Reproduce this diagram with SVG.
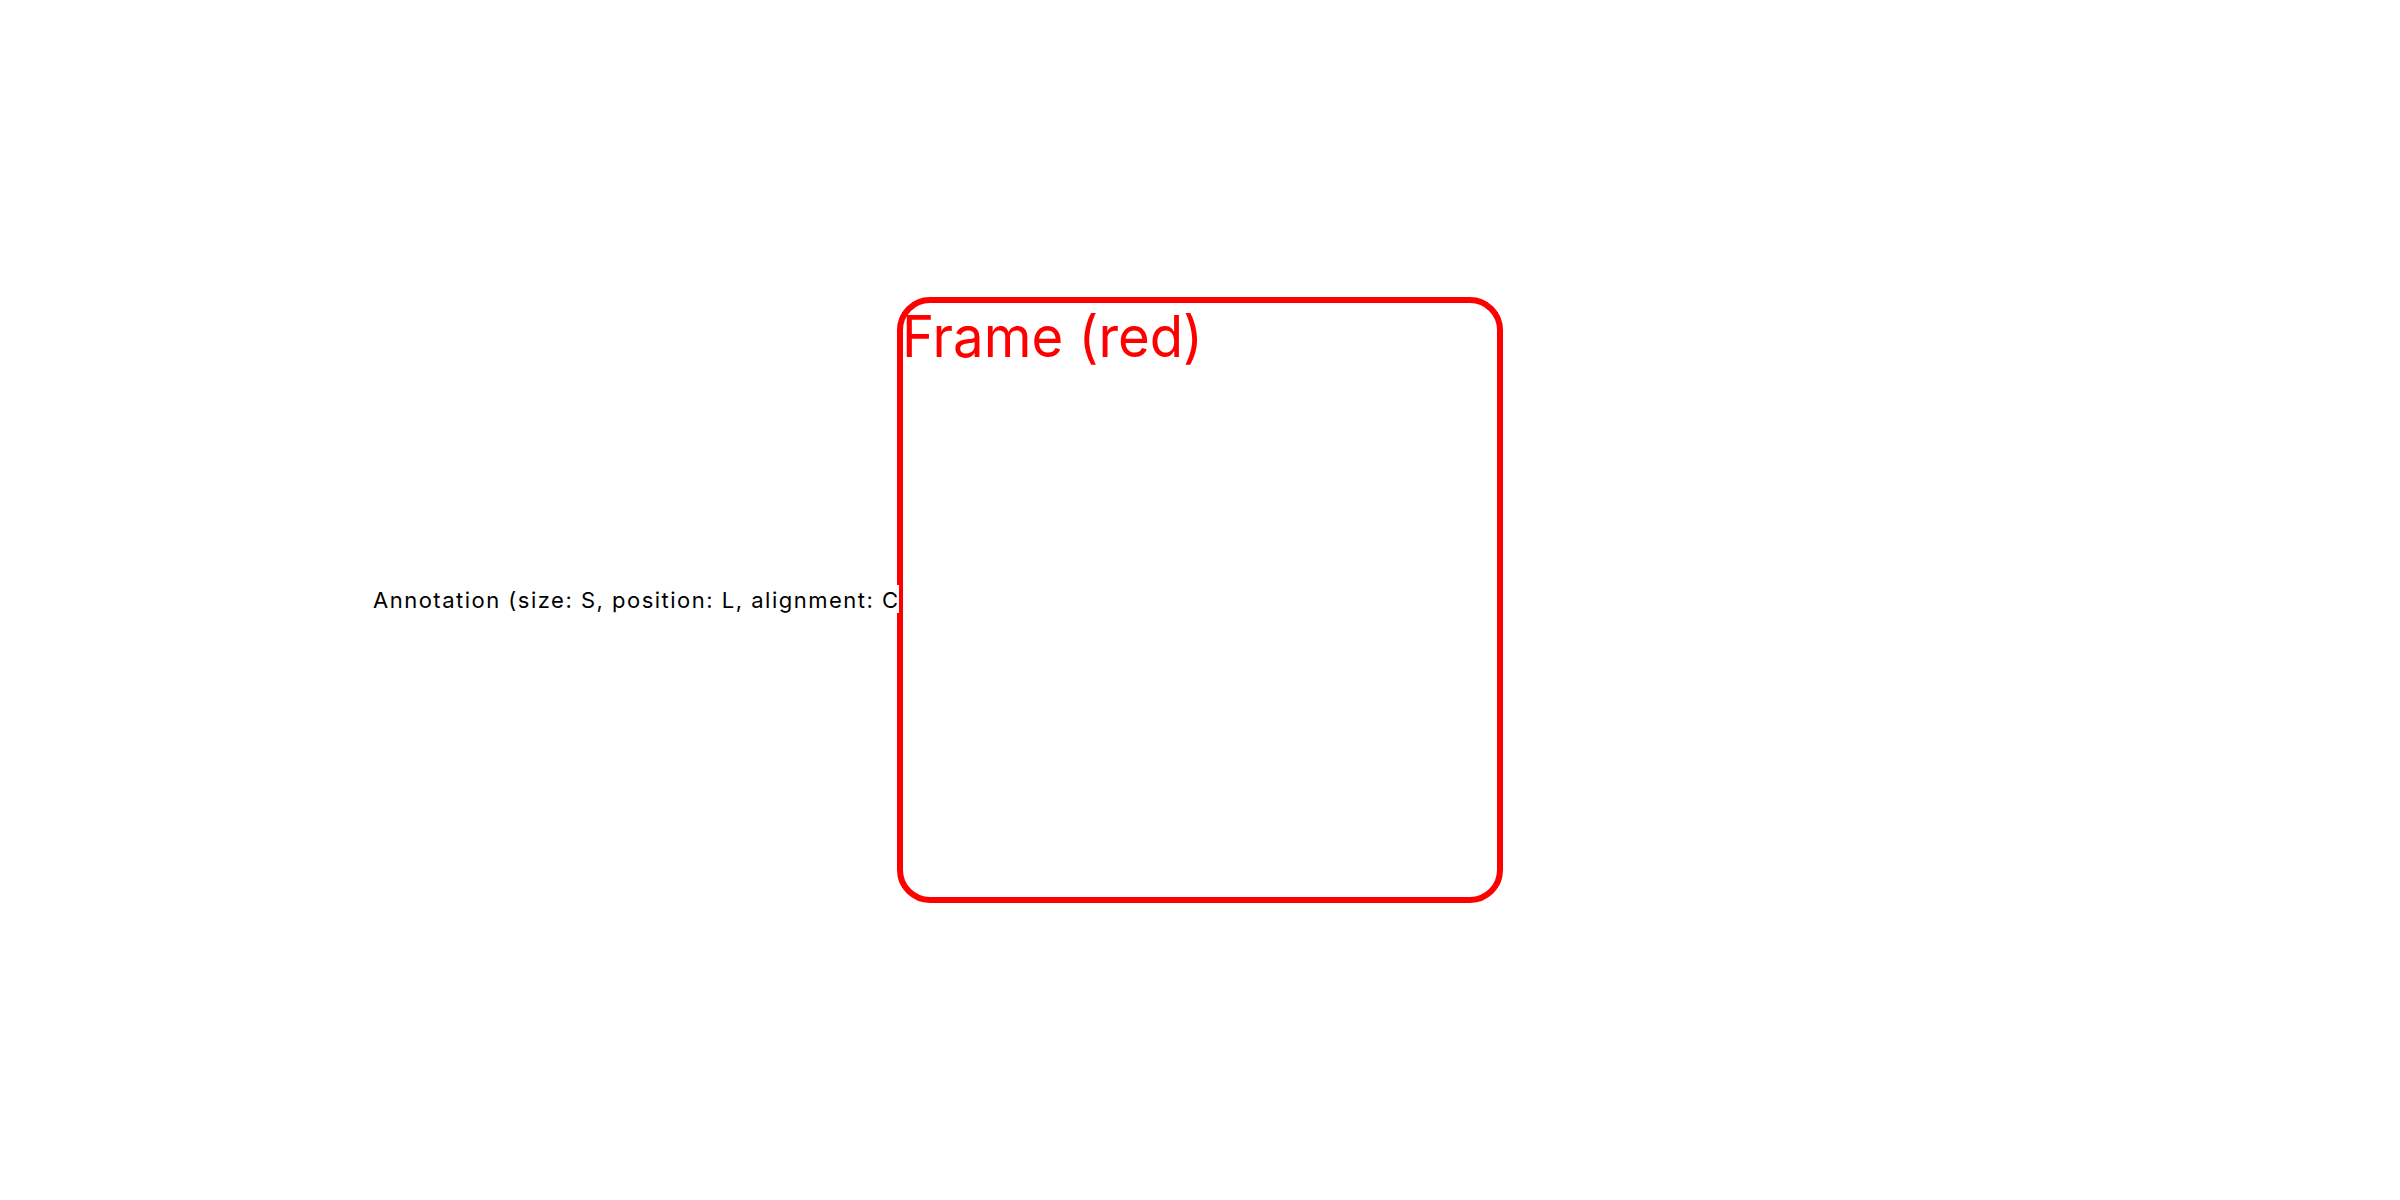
<svg xmlns="http://www.w3.org/2000/svg" width="2400" height="1200" viewBox="0 0 2400 1200">
<style>
.frame{fill:none;stroke:#ff0000;stroke-width:6}
.ftitle{font-family:Inter,"Liberation Sans",Arial,sans-serif;font-size:57px;fill:#ff0000}
.ann{font-family:Inter,"Liberation Sans",Arial,sans-serif;font-size:22px;fill:#000000}
</style>
<rect width="2400" height="1200" fill="#ffffff"/>
<g id="frame-red">
<rect class="frame" x="900" y="300" width="600" height="600" rx="30" ry="30"/>
<text class="ftitle" x="902" y="357" textLength="301" lengthAdjust="spacingAndGlyphs">Frame (red)</text>
</g>
<g id="annotation">
<rect x="366" y="585" width="533" height="28" fill="#ffffff"/>
<text class="ann" x="898" y="608" text-anchor="end" textLength="525" lengthAdjust="spacing">Annotation (size: S, position: L, alignment: C</text>
</g>
<g id="connectors"></g>
</svg>
